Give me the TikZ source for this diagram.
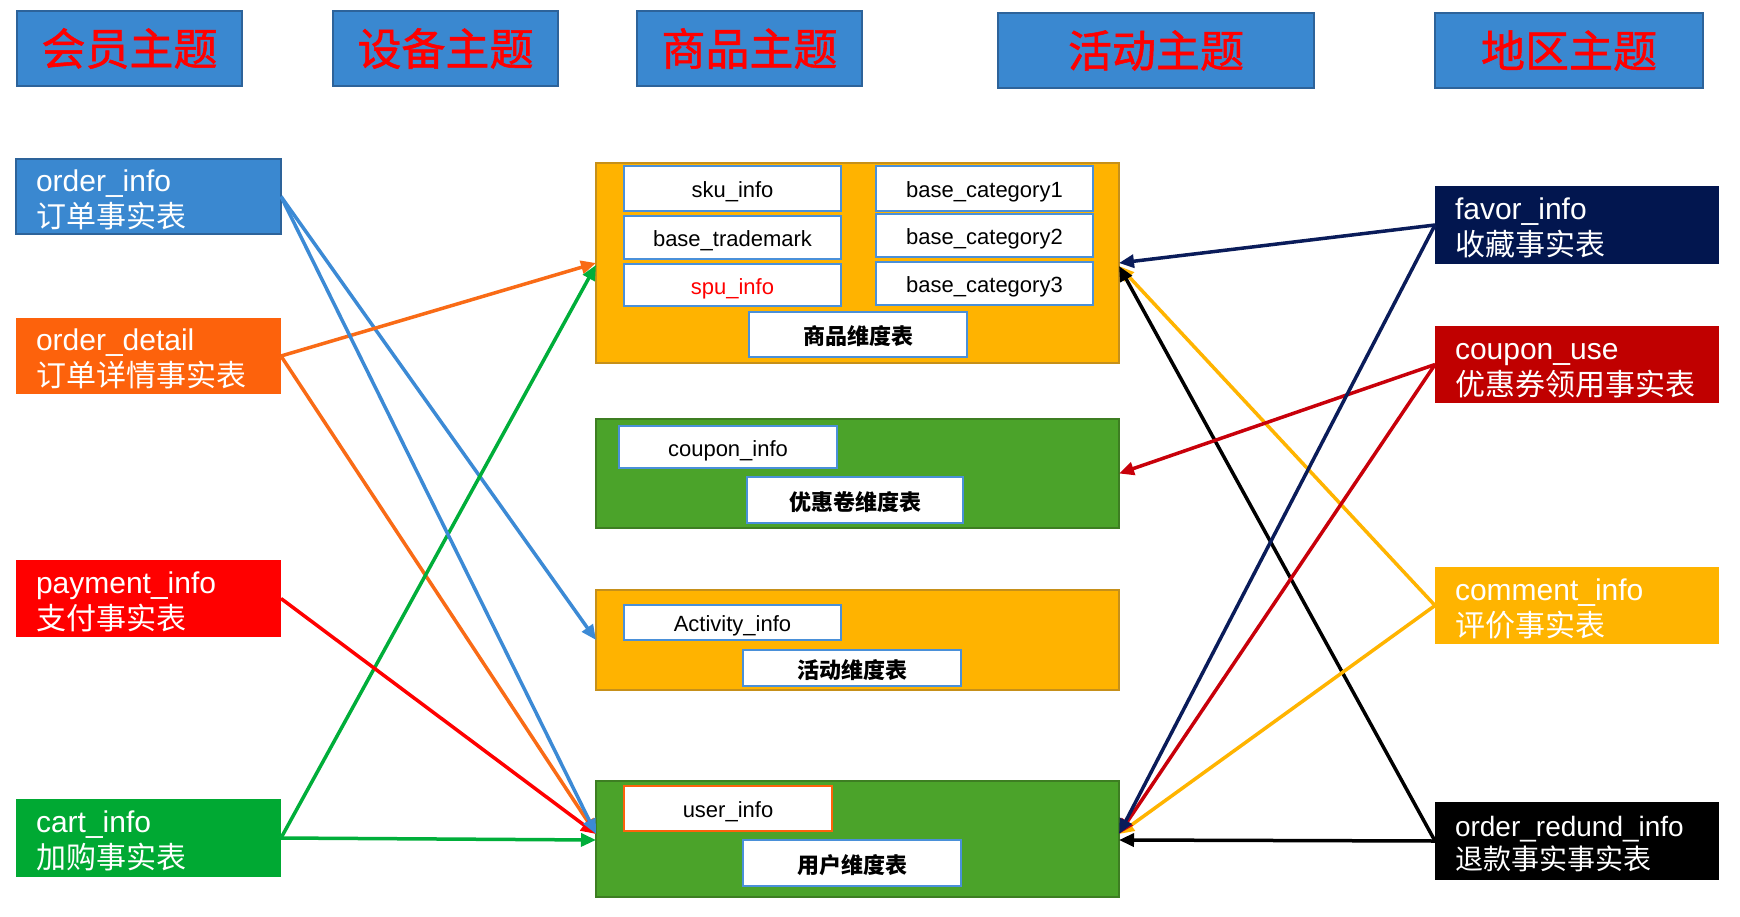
\documentclass[tikz,border=0pt]{standalone}
\usepackage{fontspec}
\setmainfont{Liberation Sans}
\newfontfamily\cjk{Noto Sans CJK SC}
\newfontfamily\cjkh{Noto Sans CJK SC}[FakeBold=1.2]
\usetikzlibrary{arrows.meta}
\newcommand\factstrut{\rule{0pt}{28pt}}
\definecolor{hdrF}{HTML}{3A88D0}
\definecolor{hdrB}{HTML}{2D639A}
\definecolor{cOD}{HTML}{FD620C}
\definecolor{cPay}{HTML}{FF0000}
\definecolor{cCart}{HTML}{00A933}
\definecolor{cFav}{HTML}{02164F}
\definecolor{cCU}{HTML}{C00000}
\definecolor{cCm}{HTML}{FFB400}
\definecolor{gold}{HTML}{FFB300}
\definecolor{goldB}{HTML}{C6901A}
\definecolor{grn}{HTML}{4BA32A}
\definecolor{grnB}{HTML}{3D7E22}
\definecolor{inB}{HTML}{4A90D9}
\definecolor{aBlue}{HTML}{3C8AD5}
\definecolor{aOrange}{HTML}{F96B16}
\definecolor{aGreen}{HTML}{00AE3A}
\definecolor{aNavy}{HTML}{0A1C5A}
\definecolor{aDRed}{HTML}{C8000A}
\begin{document}
\begin{tikzpicture}[x=1pt,y=-1pt,
  base/.style={anchor=north west, inner sep=0pt, outer sep=0pt},
  hdr/.style={base, fill=hdrF, draw=hdrB, line width=2pt, text=red,
    font=\cjkh\fontsize{44}{50}\selectfont},
  fact/.style={base, text=white, align=left, inner xsep=20pt,
    font=\fontsize{30}{36}\selectfont},
  dim/.style={base, line width=2pt},
  inbox/.style={base, fill=white, draw=inB, line width=2.2pt,
    text height=22pt, text depth=4pt, font=\fontsize{22}{26}\selectfont},
  inboxc/.style={inbox, text height=24pt, text depth=4pt,
    font=\cjk\bfseries\fontsize{22}{26}\selectfont},
  arr/.style={line width=3.5pt, -{Triangle[length=15pt,width=13pt]}}
]
\useasboundingbox (0,0) rectangle (1740,916);
\fill[white] (0,0) rectangle (1740,916);

% headers
\node[hdr, minimum width=225pt, minimum height=75pt] (h1) at (17,11) {会员主题};
\node[hdr, minimum width=225pt, minimum height=75pt] (h2) at (333,11) {设备主题};
\node[hdr, minimum width=225pt, minimum height=75pt] (h3) at (637,11) {商品主题};
\node[hdr, minimum width=316pt, minimum height=75pt] (h4) at (998,13) {活动主题};
\node[hdr, minimum width=268pt, minimum height=75pt] (h5) at (1435,13) {地区主题};

% left fact tables
\node[fact, text width=225pt, minimum height=75pt, fill=hdrF, draw=hdrB, line width=2pt] (oi) at (16,159) {\factstrut order\_info\\{\cjk 订单事实表}};
\node[fact, text width=225pt, minimum height=76pt, fill=cOD] (od) at (16,318) {\factstrut order\_detail\\{\cjk 订单详情事实表}};
\node[fact, text width=225pt, minimum height=77pt, fill=cPay] (pay) at (16,560) {\factstrut payment\_info\\{\cjk 支付事实表}};
\node[fact, text width=225pt, minimum height=78pt, fill=cCart] (cart) at (16,799) {\factstrut cart\_info\\{\cjk 加购事实表}};

% right fact tables
\node[fact, text width=244pt, minimum height=78pt, fill=cFav] (fav) at (1435,186) {\factstrut favor\_info\\{\cjk 收藏事实表}};
\node[fact, text width=244pt, minimum height=77pt, fill=cCU] (cu) at (1435,326) {\factstrut coupon\_use\\{\cjk 优惠券领用事实表}};
\node[fact, text width=244pt, minimum height=77pt, fill=cCm] (cm) at (1435,567) {\factstrut comment\_info\\{\cjk 评价事实表}};
\node[fact, text width=244pt, minimum height=78pt, fill=black, font=\fontsize{28}{33}\selectfont] (rd) at (1435,802) {\rule{0pt}{26pt}order\_redund\_info\\{\cjk 退款事实事实表}};

% dimension groups
\node[dim, fill=gold, draw=goldB, minimum width=523pt, minimum height=200pt] (goods) at (596,163) {};
\node[dim, fill=grn, draw=grnB, minimum width=523pt, minimum height=109pt] (cpn) at (596,419) {};
\node[dim, fill=gold, draw=goldB, minimum width=523pt, minimum height=100pt] (act) at (596,590) {};
\node[dim, fill=grn, draw=grnB, minimum width=523pt, minimum height=116pt] (usr) at (596,781) {};

% inner boxes
\node[inbox, minimum width=217pt, minimum height=45pt] (sku) at (624,166) {sku\_info};
\node[inbox, minimum width=217pt, minimum height=43pt] (tm) at (624,216) {base\_trademark};
\node[inbox, minimum width=217pt, minimum height=42pt, text=red] (spu) at (624,264) {spu\_info};
\node[inbox, minimum width=217pt, minimum height=45pt] (cat1) at (876,166) {base\_category1};
\node[inbox, minimum width=217pt, minimum height=43pt] (cat2) at (876,214) {base\_category2};
\node[inbox, minimum width=217pt, minimum height=43pt] (cat3) at (876,262) {base\_category3};
\node[inboxc, minimum width=218pt, minimum height=45pt] (gdim) at (749,312) {商品维度表};
\node[inbox, minimum width=218pt, minimum height=42pt] (cinfo) at (619,426) {coupon\_info};
\node[inboxc, minimum width=216pt, minimum height=46pt] (cdim) at (747,477) {优惠卷维度表};
\node[inbox, minimum width=217pt, minimum height=35pt] (ainfo) at (624,605) {Activity\_info};
\node[inboxc, minimum width=218pt, minimum height=36pt] (adim) at (743,650) {活动维度表};
\node[inbox, draw=cOD, minimum width=208pt, minimum height=45pt] (uinfo) at (624,786) {user\_info};
\node[inboxc, minimum width=218pt, minimum height=46pt] (udim) at (743,840) {用户维度表};

% connectors left
\draw[arr, aBlue] (oi.east) -- (act.west);
\draw[arr, aOrange] (od.east) -- (goods.west);
\draw[arr, aOrange] (od.east) -- ([yshift=5pt]usr.west);
\draw[arr, aGreen] (cart.east) -- ([yshift=-2pt]goods.west);
\draw[arr, aGreen] (cart.east) -- ([yshift=-1pt]usr.west);
\draw[arr, cPay] (pay.east) -- ([yshift=5pt]usr.west);
\draw[arr, aBlue] (oi.east) -- ([yshift=5pt]usr.west);

% connectors right
\draw[arr, aNavy] (fav.west) -- (goods.east);
\draw[arr, cCm] (cm.west) -- ([yshift=-3pt]goods.east);
\draw[arr, black] (rd.west) -- ([yshift=-3pt]goods.east);
\draw[arr, aDRed] (cu.west) -- (cpn.east);
\draw[arr, black] (rd.west) -- ([yshift=-1pt]usr.east);
\draw[arr, cCm] (cm.west) -- ([yshift=5pt]usr.east);
\draw[arr, aDRed] (cu.west) -- ([yshift=5pt]usr.east);
\draw[arr, aNavy] (fav.west) -- ([yshift=5pt]usr.east);
\end{tikzpicture}
\end{document}
